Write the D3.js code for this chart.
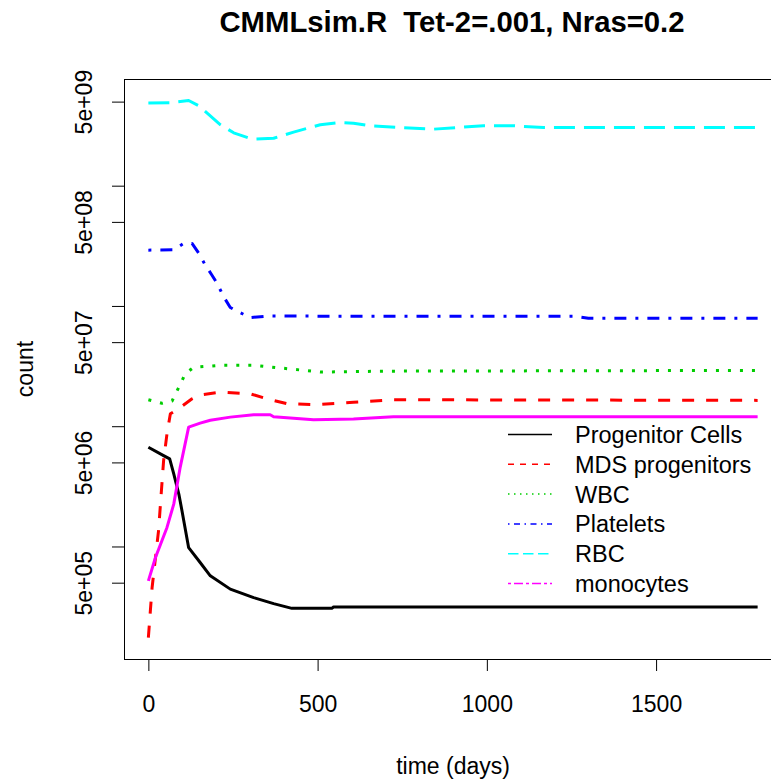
<!DOCTYPE html>
<html>
<head>
<meta charset="utf-8">
<script src="https://cdn.jsdelivr.net/npm/d3@7"></script>
<style>
  body { margin: 0; background: #fff; }
  svg { display: block; font-family: "Liberation Sans", Arial, sans-serif; }
</style>
</head>
<body>
<div id="my_dataviz"></div>
<script>
// values: [day, count]
const progenitorCells = [[0,6.68e6],[45,5.70e6],[63,5.35e6],[75,4.01e6],[90,2.73e6],[99,2.0e6],[119,9.77e5],
  [153,7.36e5],[183,5.70e5],[242,4.42e5],[311,3.76e5],[370,3.35e5],[424,3.06e5],[542,3.06e5],[547,3.14e5],[1800,3.14e5]];
const mdsProgenitors = [[0,1.75e5],[11,4.55e5],[30,1.35e6],[45,5.18e6],[55,8.65e6],[65,1.27e7],[90,1.40e7],
  [129,1.69e7],[153,1.82e7],[213,1.92e7],[301,1.86e7],[350,1.69e7],[410,1.54e7],[488,1.51e7],[606,1.58e7],[724,1.66e7],[1800,1.64e7]];
const wbc = [[0,1.66e7],[40,1.55e7],[70,1.62e7],[90,2.11e7],[109,2.73e7],[134,3.09e7],[213,3.21e7],
  [311,3.21e7],[410,3.01e7],[508,2.82e7],[705,2.87e7],[1800,2.91e7]];
const platelets = [[0,2.91e8],[75,2.93e8],[104,3.31e8],[129,3.31e8],[149,2.74e8],[168,2.19e8],[188,1.80e8],
  [203,1.54e8],[222,1.20e8],[242,9.7e7],[267,8.91e7],[301,8.0e7],[355,8.26e7],[600,8.2e7],[1260,8.2e7],[1300,7.9e7],[1800,7.9e7]];
const rbc = [[0,4.86e9],[65,4.90e9],[119,5.11e9],[149,4.61e9],[213,3.21e9],[252,2.75e9],[306,2.44e9],[370,2.48e9],
  [429,2.79e9],[508,3.21e9],[567,3.35e9],[606,3.31e9],[655,3.15e9],[754,3.04e9],[842,2.95e9],[990,3.15e9],
  [1078,3.15e9],[1167,3.04e9],[1800,3.04e9]];
const monocytes = [[0,5.18e5],[21,8.09e5],[55,1.44e6],[75,2.25e6],[94,4.55e6],[119,9.82e6],[153,1.06e7],
  [183,1.12e7],[242,1.19e7],[311,1.245e7],[360,1.245e7],[370,1.20e7],[488,1.13e7],[606,1.15e7],[724,1.20e7],[1800,1.20e7]];

const seriesNames = ["Progenitor Cells", "MDS progenitors", "WBC", "Platelets", "RBC", "monocytes"];
const seriesData = [progenitorCells, mdsProgenitors, wbc, platelets, rbc, monocytes];

const xTickValues = [0, 500, 1000, 1500];
const yTickValues = [5e5, 1e6, 5e6, 1e7, 5e7, 1e8, 5e8, 1e9, 5e9];
const yLabelValues = [5e5, 5e6, 5e7, 5e8, 5e9];

// styles (R lty 1..6)
const colors = ["#000000", "#ff0000", "#00cd00", "#0000ff", "#00ffff", "#ff00ff"];
const plotDash = [null, "12,12", "3,9", "3,9,12,9", "21,9", null];
const legendDash = [null, "6,6", "1.5,4.5", "1.5,4.5,6,4.5", "10.5,4.5", "3,3,9,3"];

const width = 771, height = 779;
const margin = {top: 79, left: 124, right: 782, bottom: 659};

const svg = d3.select("#my_dataviz")
  .append("svg")
    .attr("width", width)
    .attr("height", height);

svg.append("rect").attr("width", width).attr("height", height).attr("fill", "#fff");

// R-style 4% extension of the data range
const xExt = [0, 1800];
const xPad = (xExt[1] - xExt[0]) * 0.04;
const x = d3.scaleLinear()
  .domain([xExt[0] - xPad, xExt[1] + xPad])
  .range([margin.left, margin.right]);

const allVals = seriesData.flat().map(d => d[1]);
const lo = Math.log10(d3.min(allVals)), hi = Math.log10(d3.max(allVals));
const yPad = (hi - lo) * 0.04;
const y = d3.scaleLog()
  .domain([Math.pow(10, lo - yPad), Math.pow(10, hi + yPad)])
  .range([margin.bottom, margin.top]);

const fmt = v => {
  const e = Math.floor(Math.log10(v) + 1e-9);
  const m = Math.round(v / Math.pow(10, e));
  return m + "e" + (e < 0 ? "-" : "+") + String(Math.abs(e)).padStart(2, "0");
};

// x axis
const xAxis = svg.append("g")
  .attr("transform", `translate(0,${margin.bottom})`)
  .call(d3.axisBottom(x).tickValues(xTickValues).tickSize(12).tickPadding(0).tickFormat(d3.format("d")));
xAxis.select(".domain").remove();
xAxis.selectAll("line").attr("stroke", "#000");
xAxis.selectAll("text")
  .attr("font-size", 23).attr("font-family", "Liberation Sans, Arial, sans-serif")
  .attr("fill", "#000").attr("dy", null).attr("y", 53);

// y axis
const yAxis = svg.append("g")
  .attr("transform", `translate(${margin.left},0)`)
  .call(d3.axisLeft(y).tickValues(yTickValues).tickSize(12)
    .tickFormat(d => yLabelValues.includes(d) ? fmt(d) : ""));
yAxis.select(".domain").remove();
yAxis.selectAll("line").attr("stroke", "#000");
yAxis.selectAll("text")
  .attr("font-size", 23).attr("font-family", "Liberation Sans, Arial, sans-serif")
  .attr("fill", "#000")
  .attr("text-anchor", "middle")
  .attr("dy", null)
  .attr("x", 0).attr("y", -32)
  .attr("transform", "rotate(-90)");

// box
svg.append("rect")
  .attr("x", margin.left + 0.5).attr("y", margin.top + 0.5)
  .attr("width", margin.right - margin.left).attr("height", margin.bottom - margin.top)
  .attr("fill", "none").attr("stroke", "#000").attr("stroke-width", 1);

const line = d3.line()
  .x(d => x(d[0]))
  .y(d => y(d[1]));

svg.append("g").selectAll("path")
  .data(seriesData)
  .join("path")
    .attr("d", d => line(d))
    .attr("fill", "none")
    .attr("stroke", (d, i) => colors[i])
    .attr("stroke-width", 3)
    .attr("stroke-dasharray", (d, i) => plotDash[i])
    .attr("stroke-linejoin", "round");

// legend
const legend = svg.append("g");
const rows = legend.selectAll("g")
  .data(seriesNames)
  .join("g")
    .attr("transform", (d, i) => `translate(0,${434.5 + i * 29.8})`);
rows.append("line")
  .attr("x1", 508).attr("x2", 552)
  .attr("stroke", (d, i) => colors[i])
  .attr("stroke-width", 1.5)
  .attr("stroke-dasharray", (d, i) => legendDash[i]);
rows.append("text")
  .attr("x", 575).attr("y", 8.5)
  .attr("font-size", 23.5)
  .text(d => d);

// titles
svg.append("text")
  .attr("x", (margin.left + margin.right) / 2 - 1).attr("y", 32)
  .attr("text-anchor", "middle")
  .attr("font-size", 29.3).attr("font-weight", "bold")
  .text("CMMLsim.R  Tet-2=.001, Nras=0.2")
  .style("white-space", "pre");

svg.append("text")
  .attr("x", (margin.left + margin.right) / 2).attr("y", 774)
  .attr("text-anchor", "middle")
  .attr("font-size", 23)
  .text("time (days)");

svg.append("text")
  .attr("transform", `translate(33,${(margin.top + margin.bottom) / 2}) rotate(-90)`)
  .attr("text-anchor", "middle")
  .attr("font-size", 23)
  .text("count");
</script>
</body>
</html>
